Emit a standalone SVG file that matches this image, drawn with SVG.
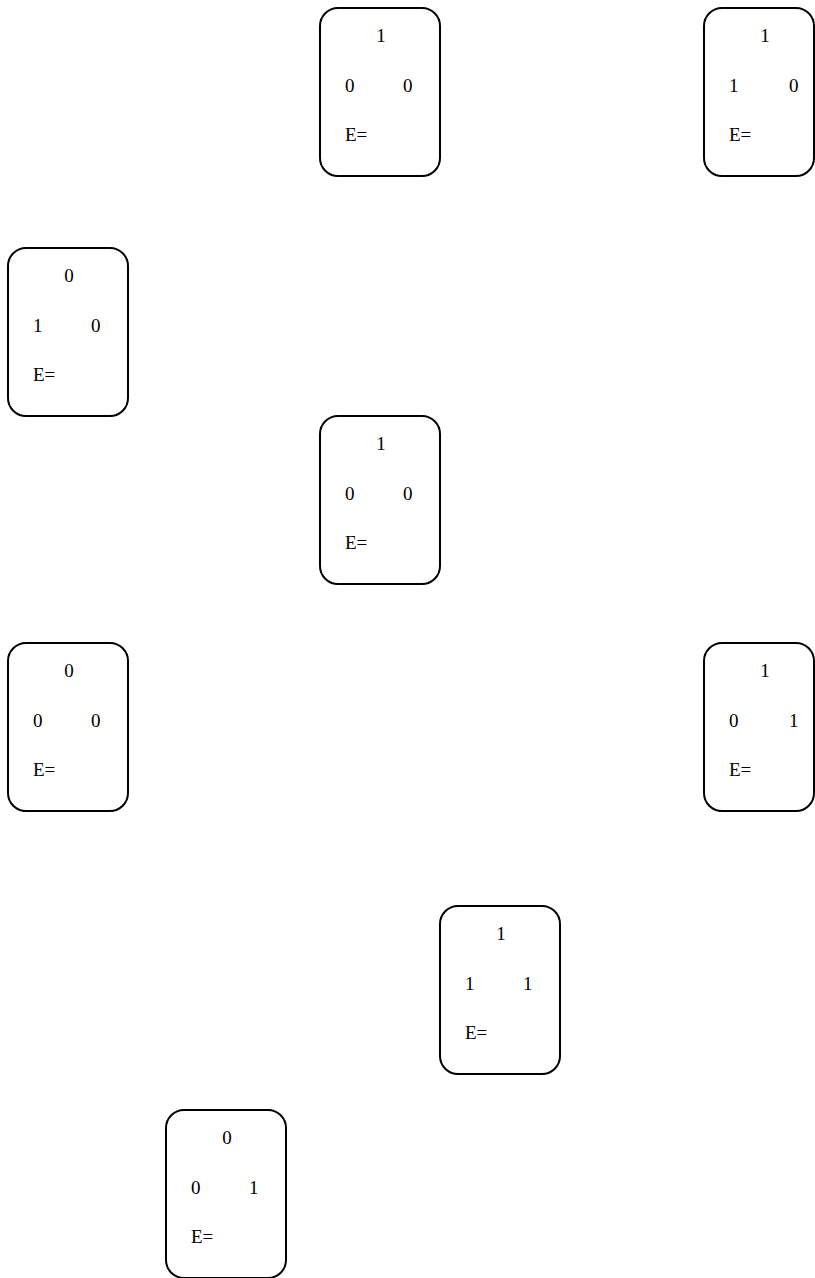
<svg xmlns="http://www.w3.org/2000/svg" width="815" height="1278" viewBox="0 0 815 1278">
<style>
.box{fill:#fff;stroke:#000;stroke-width:2}
.t{font-family:'Liberation Serif','Times New Roman',serif;font-size:19px;fill:#000}
.c{text-anchor:middle}
</style>
<rect width="815" height="1278" fill="#fff"/>
<g id="connectors"></g>
<g id="n1" class="t" transform="translate(320,8)"><rect class="box" x="0" y="0" width="120" height="168" rx="18"/><text class="c" x="61" y="34">1</text><text x="25" y="84">0</text><text x="83" y="84">0</text><text x="25" y="133">E=</text></g>
<g id="n2" class="t" transform="translate(704,8)"><rect class="box" x="0" y="0" width="110" height="168" rx="18"/><text class="c" x="61" y="34">1</text><text x="25" y="84">1</text><text x="85" y="84">0</text><text x="25" y="133">E=</text></g>
<g id="n3" class="t" transform="translate(8,248)"><rect class="box" x="0" y="0" width="120" height="168" rx="18"/><text class="c" x="61" y="34">0</text><text x="25" y="84">1</text><text x="83" y="84">0</text><text x="25" y="133">E=</text></g>
<g id="n4" class="t" transform="translate(320,416)"><rect class="box" x="0" y="0" width="120" height="168" rx="18"/><text class="c" x="61" y="34">1</text><text x="25" y="84">0</text><text x="83" y="84">0</text><text x="25" y="133">E=</text></g>
<g id="n5" class="t" transform="translate(8,643)"><rect class="box" x="0" y="0" width="120" height="168" rx="18"/><text class="c" x="61" y="34">0</text><text x="25" y="84">0</text><text x="83" y="84">0</text><text x="25" y="133">E=</text></g>
<g id="n6" class="t" transform="translate(704,643)"><rect class="box" x="0" y="0" width="110" height="168" rx="18"/><text class="c" x="61" y="34">1</text><text x="25" y="84">0</text><text x="85" y="84">1</text><text x="25" y="133">E=</text></g>
<g id="n7" class="t" transform="translate(440,906)"><rect class="box" x="0" y="0" width="120" height="168" rx="18"/><text class="c" x="61" y="34">1</text><text x="25" y="84">1</text><text x="83" y="84">1</text><text x="25" y="133">E=</text></g>
<g id="n8" class="t" transform="translate(166,1110)"><rect class="box" x="0" y="0" width="120" height="168" rx="18"/><text class="c" x="61" y="34">0</text><text x="25" y="84">0</text><text x="83" y="84">1</text><text x="25" y="133">E=</text></g>
</svg>
